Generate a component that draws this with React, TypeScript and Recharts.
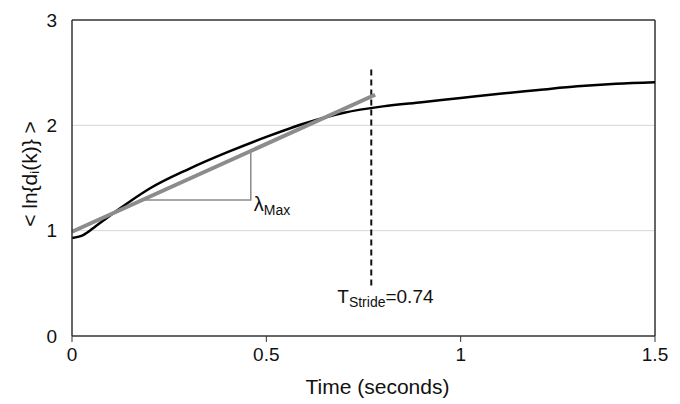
import React from "react";
import {
  LineChart,
  Line,
  XAxis,
  YAxis,
  ReferenceLine,
  ReferenceDot,
} from "recharts";

// divergence curve
const timeValues = [0, 0.03, 0.06, 0.1, 0.15, 0.2, 0.3, 0.4, 0.5, 0.6, 0.7, 0.8, 0.9, 1.0, 1.1, 1.2, 1.3, 1.4, 1.5];
const lnDivergence = [0.93, 0.96, 1.04, 1.15, 1.28, 1.4, 1.585, 1.745, 1.89, 2.02, 2.12, 2.18, 2.22, 2.26, 2.3, 2.335, 2.37, 2.395, 2.41];

// fitted slope line
const fitTime = [0, 0.78];
const fitValues = [0.99, 2.29];

// slope triangle
const triTime = [0.188, 0.46, 0.46];
const triValues = [1.29, 1.29, 1.745];

// stride marker
const strideX = 0.77;
const strideSpan = [0.48, 2.55];

const xTicks = [0, 0.5, 1, 1.5];
const yTicks = [0, 1, 2, 3];

const zip = (xs: number[], ys: number[]) => xs.map((t, i) => ({ t, v: ys[i] }));

const FONT = "'Liberation Sans', Arial, sans-serif";

function YTitle(props: any) {
  const { viewBox } = props;
  const cx = viewBox.x + 29;
  const cy = viewBox.y + viewBox.height / 2 - 4;
  return (
    <text
      x={cx}
      y={cy}
      transform={`rotate(-90 ${cx} ${cy})`}
      textAnchor="middle"
      dominantBaseline="central"
      fontSize={21}
      fill="#111"
      fontFamily={FONT}
    >
      &lt; ln{"{"}d
      <tspan fontSize={13} dy={5}>i</tspan>
      <tspan dy={-5}>(k){"}"} &gt;</tspan>
    </text>
  );
}

function LambdaLabel(props: any) {
  const { cx, cy } = props;
  return (
    <text x={cx + 3} y={cy + 11} fontSize={20} fill="#111" fontFamily={FONT}>
      λ
      <tspan fontSize={14} dy={4}>Max</tspan>
    </text>
  );
}

function StrideLabel(props: any) {
  const { cx, cy } = props;
  return (
    <text x={cx - 34} y={cy + 18} fontSize={19} fill="#111" fontFamily={FONT}>
      T
      <tspan fontSize={14} dy={4}>Stride</tspan>
      <tspan dy={-4}>=0.74</tspan>
    </text>
  );
}

export default function App() {
  return (
    <div style={{ width: 680, height: 404, background: "#fff" }}>
      <style>{`body{margin:0}`}</style>
      <LineChart
        width={680}
        height={404}
        margin={{ top: 20, right: 25, bottom: 0, left: 0 }}
        style={{ fontFamily: FONT }}
      >
        <XAxis
          type="number"
          dataKey="t"
          domain={[0, 1.5]}
          ticks={xTicks}
          tickFormatter={(v) => String(v)}
          height={68}
          tickSize={6}
          tickMargin={6}
          axisLine={{ stroke: "#333", strokeWidth: 1.5 }}
          tickLine={{ stroke: "#333" }}
          tick={{ fill: "#111", fontSize: 19 }}
          label={{
            value: "Time (seconds)",
            position: "insideBottom",
            offset: 10,
            dx: 14,
            fill: "#111",
            fontSize: 21,
          }}
        />
        <YAxis
          type="number"
          domain={[0, 3]}
          ticks={yTicks}
          width={72}
          tickSize={6}
          tickMargin={9}
          axisLine={{ stroke: "#333", strokeWidth: 1.5 }}
          tickLine={false}
          tick={{ fill: "#111", fontSize: 19 }}
          label={<YTitle />}
        />
        <ReferenceLine y={1} stroke="#d6d6d6" strokeWidth={1} />
        <ReferenceLine y={2} stroke="#d6d6d6" strokeWidth={1} />
        <ReferenceLine y={3} stroke="#333" strokeWidth={1.5} />
        <ReferenceLine x={1.5} stroke="#333" strokeWidth={1.5} />
        <ReferenceLine
          segment={[
            { x: strideX, y: strideSpan[0] },
            { x: strideX, y: strideSpan[1] },
          ]}
          stroke="#111"
          strokeWidth={2}
          strokeDasharray="6 4"
        />
        <Line
          data={zip(triTime, triValues)}
          dataKey="v"
          type="linear"
          stroke="#8a8a8a"
          strokeWidth={1.5}
          dot={false}
          isAnimationActive={false}
        />
        <Line
          data={zip(timeValues, lnDivergence)}
          dataKey="v"
          type="monotone"
          stroke="#000"
          strokeWidth={2.5}
          dot={false}
          isAnimationActive={false}
        />
        <Line
          data={zip(fitTime, fitValues)}
          dataKey="v"
          type="linear"
          stroke="#8c8c8c"
          strokeWidth={4}
          dot={false}
          isAnimationActive={false}
        />
        <ReferenceDot
          x={0.46}
          y={1.29}
          r={0}
          stroke="none"
          shape={(p: any) => <LambdaLabel {...p} />}
        />
        <ReferenceDot
          x={strideX}
          y={strideSpan[0]}
          r={0}
          stroke="none"
          shape={(p: any) => <StrideLabel {...p} />}
        />
      </LineChart>
    </div>
  );
}
